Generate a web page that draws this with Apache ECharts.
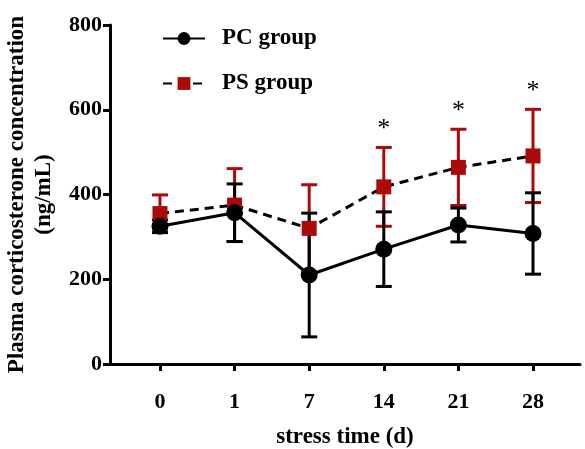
<!DOCTYPE html>
<html lang="en">
<head>
  <meta charset="UTF-8">
  <title>Plasma corticosterone</title>
  <script src="https://cdn.jsdelivr.net/npm/echarts@6/dist/echarts.min.js"></script>
</head>
<body style="margin:0">
<div id="main" style="width: 585px;height:449px;"></div>
<script type="text/javascript">

const days = ['0', '1', '7', '14', '21', '28'];
const pcMean = [325, 357, 210, 271, 328, 308];
const pcSd = [15, 68, 146, 88, 40, 96];
const psMean = [355, 375, 320, 418, 464, 491];
const psSd = [44, 86, 103, 93, 90, 110];
const psSig = [false, false, false, true, true, true];

const font = 'Liberation Serif';
const red = '#ab0a0a';

function pts(mean) {
  return mean.map((v, i) => [i, v]);
}

function errorBars(mean, sd, color, sig) {
  return {
    type: 'custom',
    silent: true,
    data: mean.map((v, i) => [i, v - sd[i], v + sd[i]]),
    renderItem: function (params, api) {
      const x = api.value(0);
      const lo = api.coord([x, api.value(1)]);
      const hi = api.coord([x, api.value(2)]);
      const w = 8;
      const style = {stroke: color, lineWidth: 3};
      const children = [
        {type: 'line', shape: {x1: lo[0], y1: lo[1], x2: hi[0], y2: hi[1]}, style: style},
        {type: 'line', shape: {x1: lo[0] - w, y1: lo[1], x2: lo[0] + w, y2: lo[1]}, style: style},
        {type: 'line', shape: {x1: hi[0] - w, y1: hi[1], x2: hi[0] + w, y2: hi[1]}, style: style}
      ];
      if (sig && sig[params.dataIndex]) {
        children.push({
          type: 'text',
          x: hi[0], y: hi[1] - 5,
          style: {text: '*', fontSize: 26, fontFamily: font, fill: '#000', align: 'center', verticalAlign: 'bottom'}
        });
      }
      return {type: 'group', children: children};
    }
  };
}

const myChart = echarts.init(document.getElementById('main'));
const option = {
  animation: false,
  backgroundColor: '#fff',
  grid: {left: 110, right: 5, top: 25, bottom: 85, outerBoundsMode: 'none', containLabel: false},
  legend: {
    orient: 'vertical',
    left: 157,
    top: 22,
    itemWidth: 42,
    itemHeight: 16,
    itemGap: 22,
    data: ['PC group', 'PS group'],
    textStyle: {fontFamily: font, fontWeight: 'bold', fontSize: 23, color: '#000', padding: [0, 0, 0, 12]}
  },
  xAxis: {
    type: 'value',
    min: -0.67,
    max: 5.63,
    splitLine: {show: false},
    axisLine: {onZero: false, lineStyle: {color: '#000', width: 3}},
    axisTick: {show: true, customValues: [0, 1, 2, 3, 4, 5], length: 7, lineStyle: {color: '#000', width: 3}},
    axisLabel: {
      customValues: [0, 1, 2, 3, 4, 5],
      formatter: v => days[Math.round(v)],
      margin: 27,
      fontFamily: font, fontWeight: 'bold', fontSize: 22, color: '#000'
    },
    name: 'stress time (d)',
    nameLocation: 'middle',
    nameGap: 62,
    nameTextStyle: {fontFamily: font, fontWeight: 'bold', fontSize: 23, color: '#000'}
  },
  yAxis: {
    type: 'value',
    min: 0,
    max: 800,
    interval: 200,
    splitLine: {show: false},
    axisLine: {show: true, onZero: false, lineStyle: {color: '#000', width: 3}},
    axisTick: {show: true, length: 7, lineStyle: {color: '#000', width: 3}},
    axisLabel: {margin: 8, fontFamily: font, fontWeight: 'bold', fontSize: 22, color: '#000'},
    name: 'Plasma corticosterone concentration\n(ng/mL)',
    nameLocation: 'middle',
    nameRotate: 90,
    nameGap: 52,
    nameTextStyle: {fontFamily: font, fontWeight: 'bold', fontSize: 23, color: '#000', lineHeight: 27, align: 'center'}
  },
  series: [
    errorBars(psMean, psSd, red, psSig),
    errorBars(pcMean, pcSd, '#000', null),
    {
      name: 'PS group',
      type: 'line',
      data: pts(psMean),
      symbol: 'rect',
      symbolSize: 15,
      itemStyle: {color: red},
      lineStyle: {color: '#000', width: 3, type: [9, 6]}
    },
    {
      name: 'PC group',
      type: 'line',
      data: pts(pcMean),
      symbol: 'circle',
      symbolSize: 17,
      itemStyle: {color: '#000'},
      lineStyle: {color: '#000', width: 3}
    }
  ]
};
myChart.setOption(option);
</script>
</body>
</html>
